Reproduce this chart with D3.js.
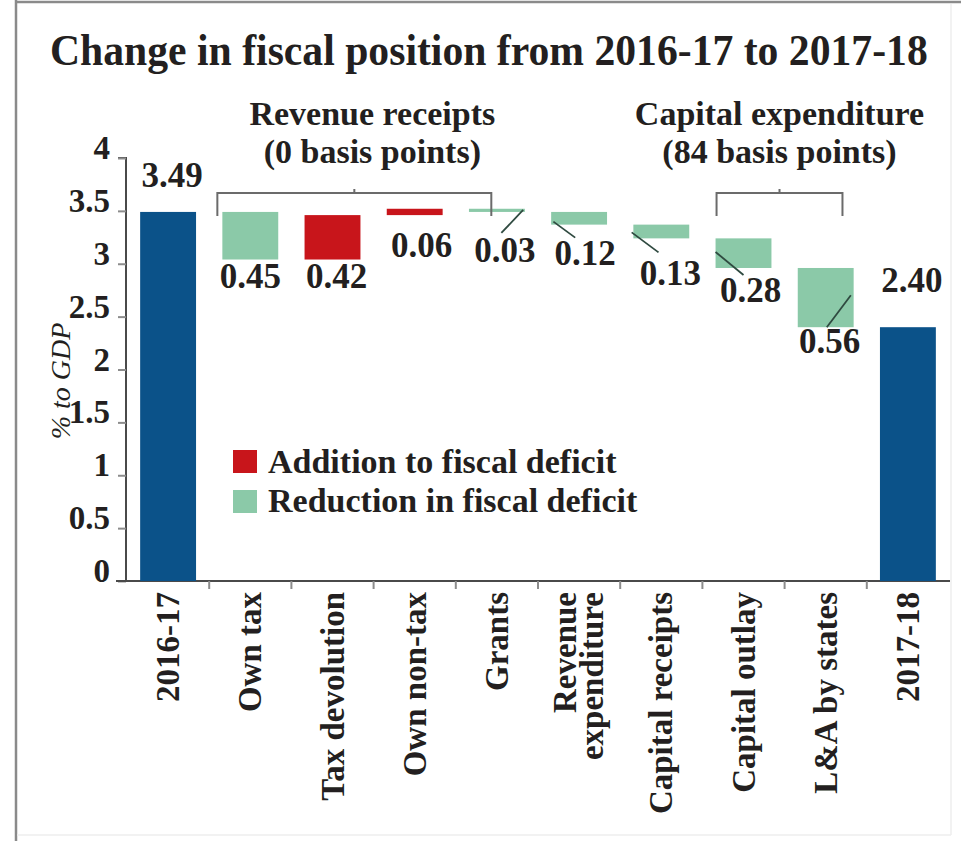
<!DOCTYPE html>
<html>
<head>
<meta charset="utf-8">
<script src="https://cdn.jsdelivr.net/npm/d3@7"></script>
<style>
  html, body { margin: 0; padding: 0; background: #fff; }
  svg { display: block; }
  text { font-family: "Liberation Serif", "Times New Roman", serif; font-weight: bold; fill: #231f20; }
</style>
</head>
<body>
<script>
// ---------- data ----------
const categories = ["2016-17", "Own tax", "Tax devolution", "Own non-tax", "Grants",
  "Revenue expenditure", "Capital receipts", "Capital outlay", "L&A by states", "2017-18"];
const startValue = 3.49;
const endValue = 2.40;
const changes = [-0.45, 0.42, 0.06, -0.03, -0.12, -0.13, -0.28, -0.56]; // + adds to deficit
const valueLabels = ["3.49", "0.45", "0.42", "0.06", "0.03", "0.12", "0.13", "0.28", "0.56", "2.40"];
const yTicks = [0, 0.5, 1, 1.5, 2, 2.5, 3, 3.5, 4];
const yTickLabels = ["0", "0.5", "1", "1.5", "2", "2.5", "3", "3.5", "4"];
const groupNames = ["Revenue receipts", "Capital expenditure"];
const groupNotes = ["(0 basis points)", "(84 basis points)"];
const groupFirst = ["Own tax", "Capital outlay"];
const groupLast = ["Grants", "L&A by states"];
const legendLabels = ["Addition to fiscal deficit", "Reduction in fiscal deficit"];
const titleText = "Change in fiscal position from 2016-17 to 2017-18";
const yAxisTitle = "% to GDP";

// ---------- layout (styles / offsets, not data) ----------
const colors = { total: "#0b5289", add: "#c8151b", reduce: "#8bc9a8" };
// label offsets: dx from bar centre, dy from bar bottom (changes) or top (totals)
const labelDx = [4, 0, 4, 7, 8, 6, 9, 7, 4, 4];
const labelDy = [-25, 28, 28, 42, 50, 40, 47, 34, 26, -35];
// leader lines [fracX1, dy1, fracX2, dy2] relative to bar left / bottom
const leaders = [null, null, null, null, [0.97, -2, 0.58, 21], [0.04, -3, 0.43, 13],
  [-0.03, -6, 0.45, 14], [0.0, -16, 0.5, 7], [0.95, -32, 0.52, 0], null];

const W = 961, H = 841;
const svg = d3.select("body").append("svg").attr("width", W).attr("height", H);

// frame
svg.append("line").attr("x1", 16).attr("x2", 16).attr("y1", 0).attr("y2", H)
  .attr("stroke", "#8a8a8a").attr("stroke-width", 2.5);
svg.append("line").attr("x1", 16).attr("x2", W).attr("y1", 2).attr("y2", 2)
  .attr("stroke", "#8a8a8a").attr("stroke-width", 2.5);
svg.append("line").attr("x1", 951).attr("x2", 951).attr("y1", 4).attr("y2", 835)
  .attr("stroke", "#eeeeee").attr("stroke-width", 1.5);
svg.append("line").attr("x1", 17).attr("x2", 951).attr("y1", 835).attr("y2", 835)
  .attr("stroke", "#eeeeee").attr("stroke-width", 1.5);

// title (condensed horizontally to fit the reference width)
const title = svg.append("text").attr("font-size", 45).text(titleText);
const natural = title.node().getComputedTextLength();
const sx = Math.min(1, 878 / natural);
title.attr("transform", `translate(50,65) scale(${sx},1)`);

// scales
const x = d3.scaleBand().domain(categories).range([127, 949]).paddingInner(0.32).paddingOuter(0.16);
const y = d3.scaleLinear().domain([0, 4]).range([581, 158]);
const bw = x.bandwidth();

// waterfall records
const recs = [];
recs.push({ cat: categories[0], lo: 0, hi: startValue, color: colors.total, total: true });
let run = startValue;
changes.forEach((c, i) => {
  const a = run, b = run + c;
  recs.push({ cat: categories[i + 1], lo: Math.min(a, b), hi: Math.max(a, b),
    color: c > 0 ? colors.add : colors.reduce, total: false });
  run = b;
});
recs.push({ cat: categories[categories.length - 1], lo: 0, hi: endValue, color: colors.total, total: true });

// y axis
const yAxis = d3.axisLeft(y).tickValues(yTicks).tickSize(8).tickFormat("");
const gy = svg.append("g").attr("transform", "translate(126,0)").call(yAxis);
gy.select(".domain").attr("stroke", "#4a4a4a").attr("stroke-width", 2).attr("d", `M-8,${y(4)}H0V${y(0)}`);
gy.selectAll(".tick line").attr("stroke", "#8c8c8c").attr("stroke-width", 2);
svg.append("g").selectAll("text").data(yTicks).join("text")
  .attr("x", 110).attr("y", d => y(d) + 1).attr("text-anchor", "end")
  .attr("font-size", 33).text((d, i) => yTickLabels[i]);

// y axis title
svg.append("text").attr("transform", `translate(70,381) rotate(-90)`)
  .attr("text-anchor", "middle").attr("font-size", 28)
  .style("font-style", "italic").style("font-weight", "normal")
  .text(yAxisTitle);

// x axis
const xAxis = d3.axisBottom(x).tickSize(0).tickFormat("");
const gx = svg.append("g").attr("transform", `translate(0,${y(0)})`).call(xAxis);
gx.select(".domain").attr("stroke", "#4a4a4a").attr("stroke-width", 2).attr("d", `M116,0H950`);
const step = x.step();
const boundaries = categories.slice(1).map(c => x(c) - (step - bw) / 2);
gx.selectAll(".sep").data(boundaries).join("line").attr("class", "sep")
  .attr("x1", d => d).attr("x2", d => d).attr("y1", 0).attr("y2", 8)
  .attr("stroke", "#8c8c8c").attr("stroke-width", 2);

// x labels
const xl = svg.append("g");
categories.forEach(c => {
  const cx = x(c) + bw / 2;
  const t = xl.append("text").attr("transform", `translate(${cx + 11},592) rotate(-90)`)
    .attr("text-anchor", "end").attr("font-size", 33);
  if (c === "Revenue expenditure") {
    t.append("tspan").attr("x", 0).attr("dy", -14).text("Revenue");
    t.append("tspan").attr("x", 0).attr("dy", 27).text("expenditure");
  } else {
    t.text(c);
  }
});

// bars
svg.append("g").selectAll("rect").data(recs).join("rect")
  .attr("x", d => x(d.cat)).attr("width", bw)
  .attr("y", d => y(d.hi)).attr("height", d => Math.max(2, y(d.lo) - y(d.hi)))
  .attr("fill", d => d.color);

// leader lines
svg.append("g").selectAll("line").data(recs.map((d, i) => ({ d, l: leaders[i] })).filter(o => o.l))
  .join("line")
  .attr("x1", o => x(o.d.cat) + o.l[0] * bw).attr("y1", o => y(o.d.lo) + o.l[1])
  .attr("x2", o => x(o.d.cat) + o.l[2] * bw).attr("y2", o => y(o.d.lo) + o.l[3])
  .attr("stroke", "#2f4a40").attr("stroke-width", 1.8);

// value labels
svg.append("g").selectAll("text").data(recs).join("text")
  .attr("x", (d, i) => x(d.cat) + bw / 2 + labelDx[i])
  .attr("y", (d, i) => (d.total ? y(d.hi) : y(d.lo)) + labelDy[i])
  .attr("text-anchor", "middle").attr("font-size", 35)
  .text((d, i) => valueLabels[i]);

// group brackets
const bracketTop = 193, bracketBottom = 216;
const bl = [x(groupFirst[0]) - 5, x(groupFirst[1]) + 1];
const br = [x(groupLast[0]) + 0.4 * bw, x(groupLast[1]) + 0.8 * bw];
const gb = svg.append("g");
groupNames.forEach((g, i) => {
  const l = bl[i], r = br[i], m = (l + r) / 2;
  gb.append("path").attr("d", `M${l},${bracketBottom}V${bracketTop}H${r}V${bracketBottom}M${m},${bracketTop}V${bracketTop - 4}`)
    .attr("fill", "none").attr("stroke", "#6b6b6b").attr("stroke-width", 2);
  const tc = i === 0 ? m + 18 : m;
  gb.append("text").attr("x", tc).attr("y", 125).attr("text-anchor", "middle")
    .attr("font-size", 34).text(g);
  gb.append("text").attr("x", tc).attr("y", 163).attr("text-anchor", "middle")
    .attr("font-size", 34).text(groupNotes[i]);
});

// legend
const lg = svg.append("g");
[colors.add, colors.reduce].forEach((c, i) => {
  lg.append("rect").attr("x", 233).attr("y", 450 + i * 40).attr("width", 24).attr("height", 23).attr("fill", c);
  lg.append("text").attr("x", 268).attr("y", 473 + i * 39).attr("font-size", 34).text(legendLabels[i]);
});
</script>
</body>
</html>
